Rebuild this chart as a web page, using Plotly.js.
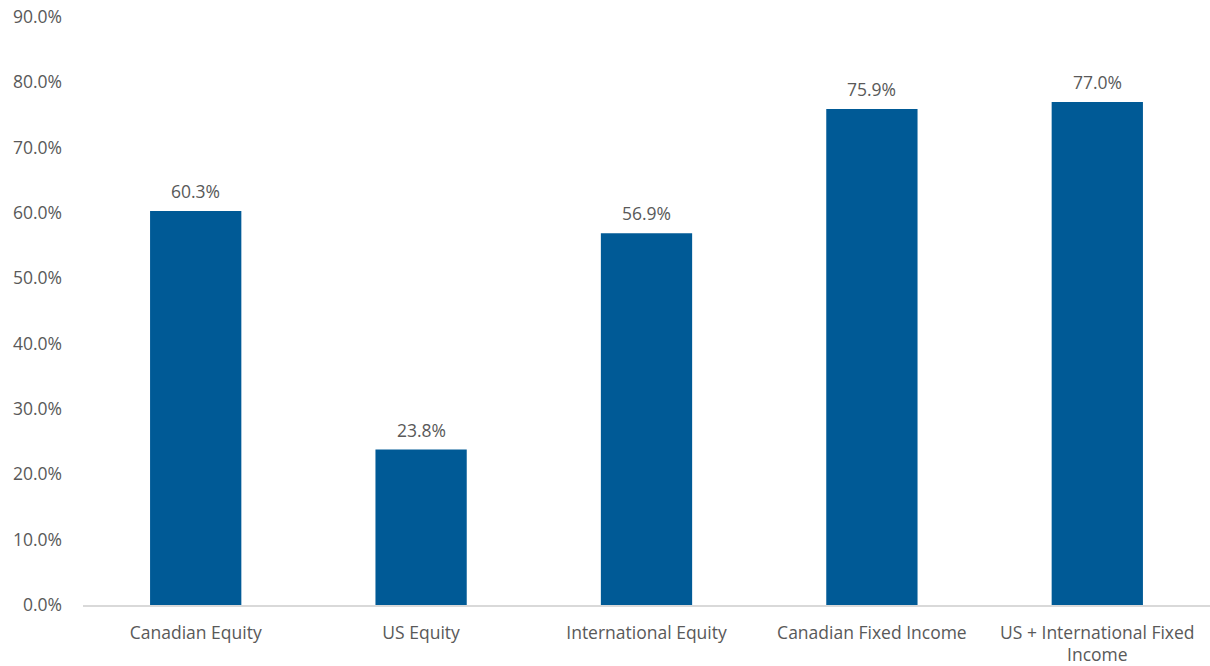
<!DOCTYPE html>
<html>
<head>
<meta charset="utf-8">
<script src="https://cdn.plot.ly/plotly-3.0.1.min.js"></script>
<style>html,body{margin:0;padding:0;background:#fff;}#chart{width:1210px;height:666px;}</style>
</head>
<body>
<div id="chart"></div>
<script>
const categories = ["Canadian Equity", "US Equity", "International Equity", "Canadian Fixed Income", "US + International Fixed<br>Income"];
const values = [60.3, 23.8, 56.9, 75.9, 77.0];
const tickVals = [0, 10, 20, 30, 40, 50, 60, 70, 80, 90];
const tickText = tickVals.map(v => v.toFixed(1) + "%");

const fontFam = "'Open Sans', sans-serif";
const textColor = "#595959";
const fs = 17.5;

const trace = {
  type: "bar",
  x: categories,
  y: values,
  marker: {color: "#005A96"},
  hoverinfo: "none"
};

const annotations = categories.map((c, i) => ({
  x: c, y: values[i], xref: "x", yref: "y",
  text: values[i].toFixed(1) + "%",
  showarrow: false, yanchor: "bottom", yshift: 6,
  font: {family: fontFam, size: fs, color: textColor}
}));

const layout = {
  width: 1210, height: 666,
  margin: {l: 83, r: 0, t: 17, b: 61},
  paper_bgcolor: "#fff", plot_bgcolor: "#fff",
  showlegend: false,
  bargap: 0.595,
  font: {family: fontFam, size: fs, color: textColor},
  xaxis: {
    type: "category",
    showline: true, linecolor: "#D9D9D9", linewidth: 1.5,
    showgrid: false, zeroline: false,
    ticks: "", ticklabelstandoff: 11,
    tickfont: {family: fontFam, size: fs, color: textColor}
  },
  yaxis: {
    range: [0, 90],
    tickvals: tickVals, ticktext: tickText,
    showgrid: false, zeroline: false, showline: false,
    ticks: "", ticklabelstandoff: 20,
    tickfont: {family: fontFam, size: fs, color: textColor}
  },
  annotations: annotations
};

Plotly.newPlot("chart", [trace], layout, {staticPlot: true, displayModeBar: false});
</script>
</body>
</html>
